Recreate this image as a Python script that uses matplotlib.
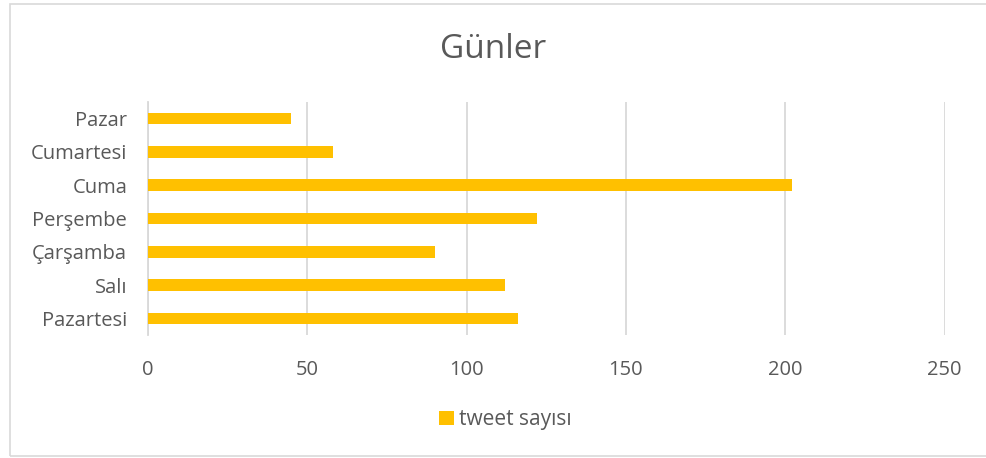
import matplotlib
matplotlib.use('Agg')
import matplotlib.pyplot as plt
from matplotlib.patches import Rectangle

# Günlere göre tweet sayıları
gunler = ['Pazartesi', 'Salı', 'Çarşamba', 'Perşembe', 'Cuma', 'Cumartesi', 'Pazar']
tweet_sayisi = [116, 112, 90, 122, 202, 58, 45]
x_ticks = [0, 50, 100, 150, 200, 250]

bar_color = '#FFC000'
text_color = '#595959'
grid_color = '#D9D9D9'

plt.rcParams['font.family'] = ['Open Sans', 'DejaVu Sans']

fig = plt.figure(figsize=(9.87, 4.58), dpi=100)
ax = fig.add_axes([0.150, 0.2686, 0.807, 0.5087])

ax.barh(gunler, tweet_sayisi, height=0.35, color=bar_color, zorder=3,
        label='tweet sayısı')

ax.set_xlim(0, 250)
ax.set_ylim(-0.5, len(gunler) - 0.5)
ax.set_xticks(x_ticks)
ax.grid(axis='x', color=grid_color, linewidth=1.3, zorder=0)
for side in ['top', 'right', 'bottom']:
    ax.spines[side].set_visible(False)
ax.spines['left'].set_color(grid_color)
ax.spines['left'].set_linewidth(1.3)
ax.tick_params(axis='both', length=0, labelsize=14.5, colors=text_color)
ax.tick_params(axis='x', pad=18)
ax.tick_params(axis='y', pad=15)

fig.text(0.5, 0.893, 'Günler', ha='center', va='center', fontsize=24,
         color=text_color)

fig.legend(loc='center', bbox_to_anchor=(0.512, 0.083), frameon=False,
           fontsize=15, labelcolor=text_color, handlelength=0.7,
           handleheight=0.7, handletextpad=0.25)

# dış çerçeve
fig.patches.append(Rectangle((9.5 / 987, 2.5 / 458), 1.2, 1 - 6.5 / 458,
                             transform=fig.transFigure, fill=False,
                             edgecolor=grid_color, linewidth=1.2))

fig.savefig('out.png', dpi=100)
